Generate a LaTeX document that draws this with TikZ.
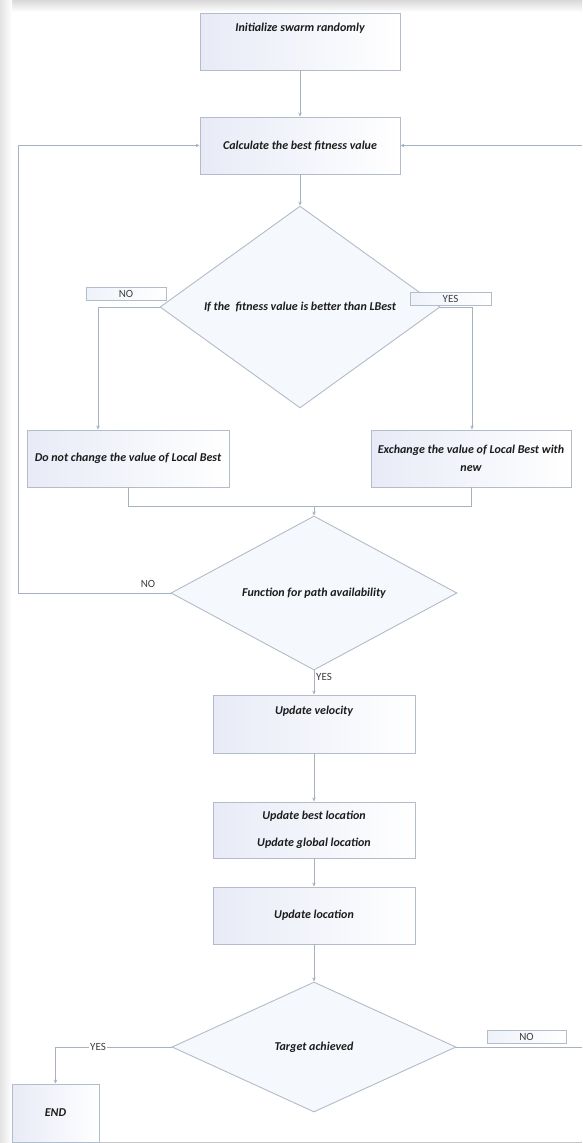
\documentclass[tikz,border=0pt]{standalone}
\usepackage{fontspec}
\setmainfont{Carlito}
\usetikzlibrary{shapes.geometric,arrows.meta}
\definecolor{boxline}{HTML}{B3BCC9}
\definecolor{lineclr}{HTML}{A7B2C0}
\definecolor{boxleft}{HTML}{E8EBF7}
\definecolor{diafill}{HTML}{F5F8FC}
\definecolor{labfill}{HTML}{EEF2F9}
\definecolor{txt}{HTML}{1C1C1C}
\begin{document}
\begin{tikzpicture}[x=1pt,y=-1pt,
  box/.style={draw=boxline, line width=0.9pt, left color=boxleft, right color=white,
    minimum width=200pt, minimum height=57pt, inner sep=0pt, align=center,
    text=txt, font=\bfseries\itshape\fontsize{12}{14.5}\selectfont},
  dia/.style={diamond, draw=boxline, line width=0.9pt, fill=diafill, inner sep=0pt,
    text=txt, font=\bfseries\itshape\fontsize{12}{14.5}\selectfont},
  lab/.style={draw=boxline, line width=0.8pt, left color=labfill, right color=white,
    minimum height=13pt, inner sep=0pt, text=txt!85, font=\fontsize{11}{12}\selectfont},
  plainlab/.style={inner sep=1pt, text=txt!85, font=\fontsize{11}{12}\selectfont},
  conn/.style={draw=lineclr, line width=0.9pt},
  arr/.style={conn, -{Stealth[length=4pt,width=3.5pt]}}]
\useasboundingbox (0,0) rectangle (582,1143);
\fill[white] (0,0) rectangle (582,1143);
\fill[top color=gray!30, bottom color=white] (0,0) rectangle (582,12);
\fill[left color=gray!22, right color=white] (0,0) rectangle (12,1143);
\draw[gray!45, line width=0.8pt] (12,1142) -- (582,1142);

% coordinates
\coordinate (lt) at (18,593);
\coordinate (rt) at (582,145.5);
\coordinate (re) at (582,1047);
\coordinate (lb) at (98,307);
\coordinate (rb) at (472,307);
\coordinate (m) at (314,506.5);
\coordinate (ye) at (55.5,1047);

% nodes
\node[box, text height=18pt, text depth=39pt] (b1) at (300,41.5) {Initialize swarm randomly};
\node[box] (b2) at (300,145.5) {Calculate the best fitness value};
\node[dia, minimum width=280pt, minimum height=132pt] (d1) at (300,307) {If the\ \ fitness value is better than LBest};
\node[box, minimum width=202pt] (b3) at (128,458.5) {Do not change the value of Local Best};
\node[box] (b4) at (471,458.5) {Exchange the value of Local Best with\\[3pt]new};
\node[dia, minimum width=286pt, minimum height=130pt] (d2) at (314,593) {Function for path availability};
\node[plainlab] (no2) at (148,584) {NO};
\node[plainlab] (yes2) at (324,677) {YES};
\node[box, minimum width=202pt, minimum height=58pt, text height=19pt, text depth=39pt] (b5) at (314,724) {Update velocity};
\node[box, minimum width=202pt, minimum height=56pt] (b6) at (314,830) {Update best location\\[13pt]Update global location};
\node[box, minimum width=202pt] (b7) at (314,915.5) {Update location};
\node[dia, minimum width=284pt, minimum height=130pt] (d3) at (314,1047) {Target achieved};
\node[box, minimum width=87pt, minimum height=58pt] (end) at (55.5,1113) {END};

% connectors
\draw[arr] (b1) -- (b2);
\draw[arr] (b2) -- (d1);
\draw[arr] (d1.west) -- (lb) -- (lb |- b3.north);
\draw[arr] (d1.east) -- (rb) -- (rb |- b4.north);
\draw[conn] (b3.south) |- (m -| b4.south) -- (b4.south);
\draw[arr] (m) -- (d2.north);
\draw[arr] (d2.west) -- (lt) |- (b2.west);
\draw[arr] (rt) -- (b2.east);
\draw[arr] (d2.south) -- (b5.north);
\draw[arr] (b5) -- (b6);
\draw[arr] (b6) -- (b7);
\draw[arr] (b7) -- (d3);
\draw[arr] (d3.west) -- (ye) -- (end.north);
\draw[conn] (d3.east) -- (re);

% labels drawn above the lines
\node[plainlab, fill=white] (yes3) at (98,1047) {YES};
\node[lab, minimum width=80pt] (no1) at (126,294) {NO};
\node[lab, minimum width=81pt] (yes1) at (450.5,298.5) {YES};
\node[lab, minimum width=79pt] (no3) at (526.5,1036.5) {NO};
\end{tikzpicture}
\end{document}
